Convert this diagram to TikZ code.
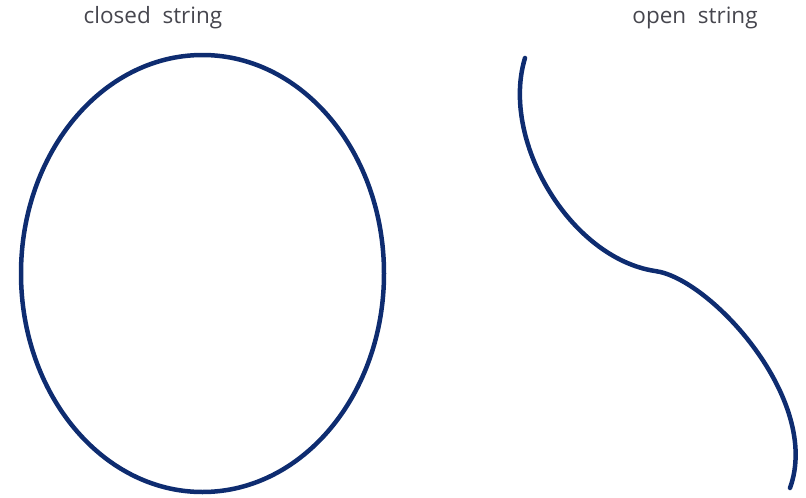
\documentclass[tikz,border=0pt]{standalone}
\usepackage{fontspec}
\setmainfont{Open Sans}
\usepackage{tikz}
\usetikzlibrary{positioning,calc}
\usepackage{xcolor}
\definecolor{stringblue}{RGB}{14,44,112}
\definecolor{labelgray}{RGB}{70,70,78}

\begin{document}
\begin{tikzpicture}[x=1pt, y=-1pt,
  string/.style={draw=stringblue, line width=4.5pt, line cap=round},
  label/.style={labelgray, font=\fontsize{22.5}{26}\selectfont, inner sep=0pt}]
\useasboundingbox (0,0) rectangle (806,498);
\node[label] (closedlabel) at (153,18) {closed\ \ string};
\node[label] (openlabel) at (695,18) {open\ \ string};
% closed string
\draw[string] (202.5,273.5) ellipse [x radius=181.5pt, y radius=218.5pt];
% open string
\coordinate (a) at (525,58);
\coordinate (b) at (655,271);
\coordinate (c) at (790,488);
\draw[string] (a) .. controls (500,140) and (570,258) .. (b)
  .. controls (710,278) and (822,400) .. (c);
\end{tikzpicture}
\end{document}
